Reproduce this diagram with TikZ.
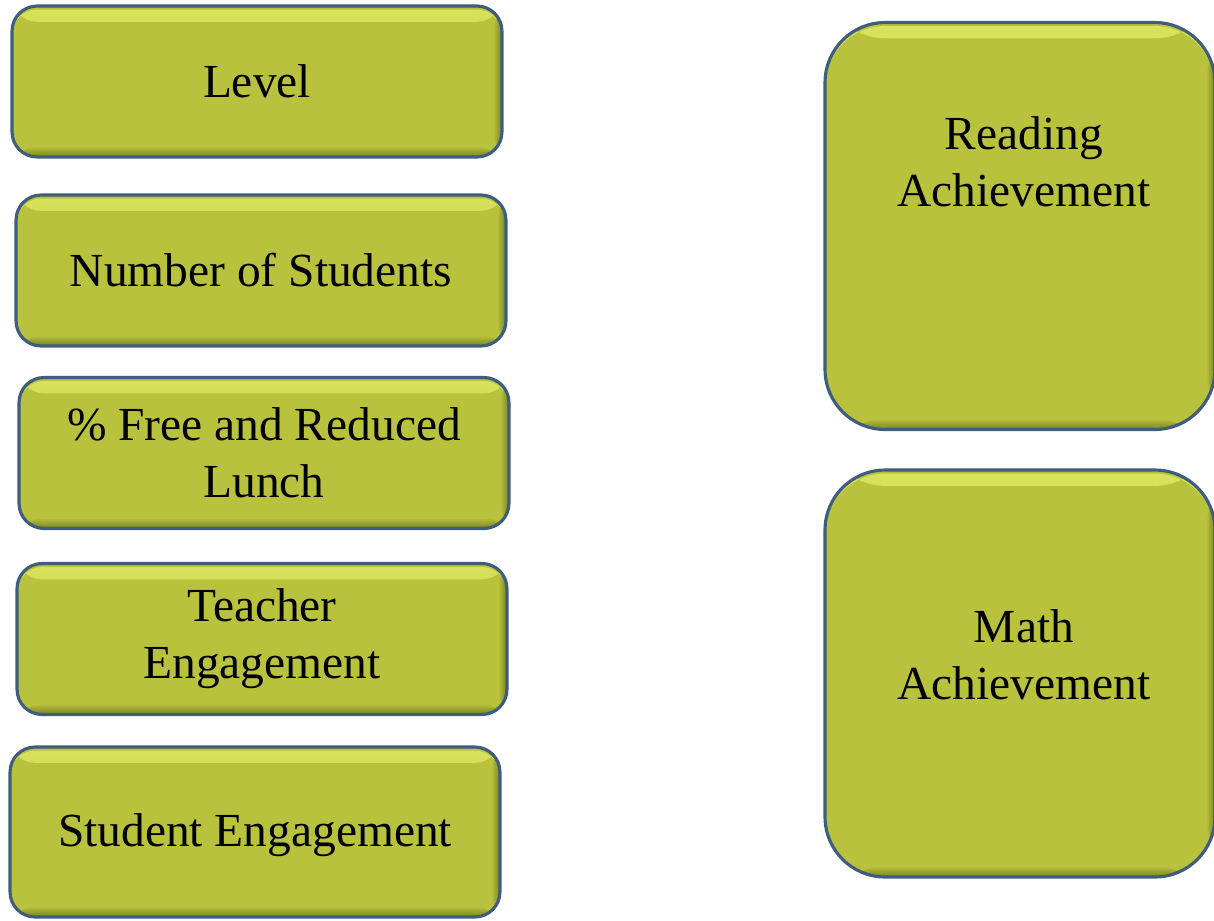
\documentclass[tikz,border=0pt]{standalone}
\usepackage{fontspec}
\setmainfont{Liberation Serif}
\definecolor{boxfill}{HTML}{B8C23C}
\definecolor{boxlight}{HTML}{D8E25A}
\definecolor{boxdark}{HTML}{7A8022}
\definecolor{boxedge}{HTML}{3F5D7D}

\begin{document}
\begin{tikzpicture}[x = 0.02cm, y = -0.02cm, font = \fontsize{27}{32.5}\selectfont]
	\tikzstyle{boxStyle} = [draw = boxedge, line width = 1.8pt, fill = boxfill, align = center,
		path picture = {
			\shade[top color = boxlight, bottom color = boxfill] ([yshift = -2pt]path picture bounding box.north west) rectangle ([yshift = -9pt]path picture bounding box.north east);
			\shade[top color = boxfill, bottom color = boxdark] ([yshift = 6pt]path picture bounding box.south west) rectangle (path picture bounding box.south east);
			\shade[left color = boxfill, right color = boxdark] ([xshift = -5pt]path picture bounding box.north east) rectangle (path picture bounding box.south east);
		}]
	\tikzstyle{smallStyle} = [boxStyle, rounded corners = 0.5cm, minimum width = 9.8cm, minimum height = 3.02cm]
	\tikzstyle{bigStyle} = [boxStyle, rounded corners = 1.2cm, minimum width = 7.8cm, minimum height = 8.14cm]
	\tikzstyle{textStyle} = [align = center, inner sep = 0pt]
	\useasboundingbox (0, 0) rectangle (1214, 920);
	% left column
	\node[smallStyle] (level) at (257, 81.5) {Level};
	\node[smallStyle] (students) at (261, 270.5) {Number of Students};
	\node[smallStyle] (lunch) at (264, 453) {\% Free and Reduced\\Lunch};
	\node[smallStyle] (teacher) at (262, 639) {Teacher\\Engagement};
	\node[smallStyle, minimum height = 3.4cm] (student) at (255, 832) {};
	\node[textStyle] (studentText) at (255, 835) {Student Engagement};
	% right column
	\node[bigStyle] (reading) at (1020, 226) {};
	\node[bigStyle] (math) at (1020, 673.5) {};
	\node[textStyle] (readingText) at (1024, 162) {Reading\\Achievement};
	\node[textStyle] (mathText) at (1024, 655) {Math\\Achievement};
\end{tikzpicture}
\end{document}
